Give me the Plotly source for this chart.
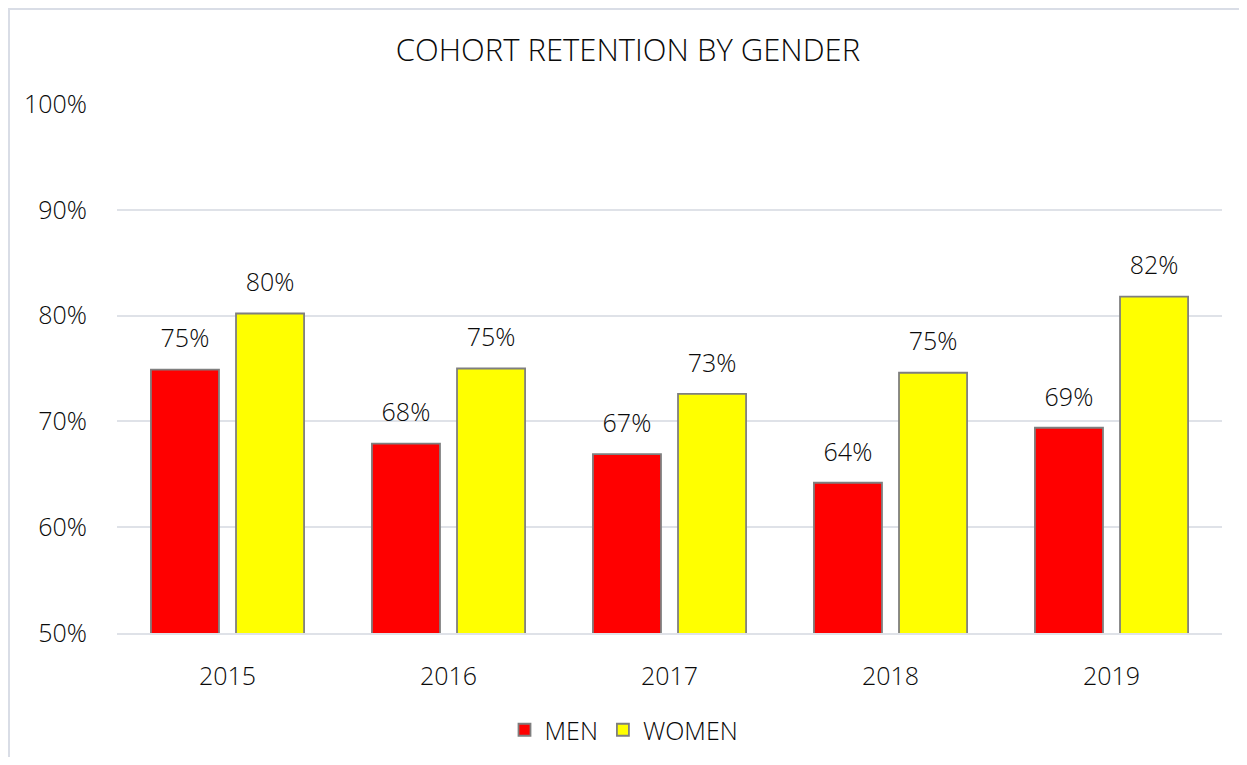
import plotly.graph_objects as go

years = ["2015", "2016", "2017", "2018", "2019"]
men = [0.749, 0.679, 0.669, 0.642, 0.694]
women = [0.802, 0.750, 0.726, 0.746, 0.818]
men_labels = ["75%", "68%", "67%", "64%", "69%"]
women_labels = ["80%", "75%", "73%", "75%", "82%"]

FONT = "Open Sans"
TXT = "#0a0a0a"
WT = 300

fig = go.Figure()
fig.add_trace(go.Bar(x=years, y=men, name="MEN", offsetgroup="m",
                     marker=dict(color="#ff0000", line=dict(color="#7f7f7f", width=1.8))))
fig.add_trace(go.Bar(x=years, y=women, name="WOMEN", offsetgroup="w",
                     marker=dict(color="#ffff00", line=dict(color="#7f7f7f", width=1.8))))
for vals, labs, grp in [(men, men_labels, "m"), (women, women_labels, "w")]:
    fig.add_trace(go.Scatter(x=years, y=vals, text=labs, mode="markers+text", offsetgroup=grp,
                             textposition="top center", marker=dict(size=24, opacity=0),
                             textfont=dict(size=25, color=TXT, family=FONT, weight=WT),
                             showlegend=False, cliponaxis=False, hoverinfo="skip"))

OFF = 8  # default page body margin
W, H = 1247 - 2 * OFF, 765 - 2 * OFF
l = 117 - OFF
t = 104 - OFF
r = (OFF + W) - 1222
b = (OFF + H) - 633
pw = W - l - r
ph = H - t - b
bx = (1 - l) / pw
by = (H - b - 1) / ph

fig.update_layout(
    width=W, height=H,
    margin=dict(l=l, r=r, t=t, b=b),
    paper_bgcolor="white", plot_bgcolor="white",
    font=dict(family=FONT, color=TXT, size=25, weight=WT),
    title=dict(text="COHORT RETENTION BY GENDER", x=(628 - OFF) / W, xref="container", xanchor="center",
               y=1 - (50 - OFF) / H, yref="container", yanchor="middle",
               font=dict(size=31, color=TXT, family=FONT, weight=WT)),
    barmode="group", bargap=0.23, bargroupgap=0.2,
    scattermode="group", scattergap=0.23,
    showlegend=True,
    legend=dict(orientation="h", xref="container", x=(624 - OFF) / W, xanchor="center", yref="container",
                y=1 - (730 - OFF) / H, yanchor="middle",
                font=dict(size=25, color=TXT, family=FONT, weight=WT),
                itemwidth=30, traceorder="normal"),
    shapes=[dict(type="path", xref="paper", yref="paper",
                 path=f"M {bx} -0.5 L {bx} {by} L 1.2 {by}",
                 line=dict(color="#d9dde6", width=2))],
)
fig.update_yaxes(range=[0.5, 1.0], dtick=0.1, tickformat=".0%", showgrid=True, gridcolor="#dfe2e8", gridwidth=1.5,
                 zeroline=False, ticks="outside", ticklen=24, tickcolor="rgba(0,0,0,0)",
                 tickfont=dict(size=25, color=TXT, family=FONT, weight=WT))
fig.update_xaxes(showline=True, linecolor="#dfe2e8", linewidth=1.5, ticks="outside", ticklen=20,
                 tickcolor="rgba(0,0,0,0)", tickfont=dict(size=25, color=TXT, family=FONT, weight=WT))

fig.write_html("out.html")
